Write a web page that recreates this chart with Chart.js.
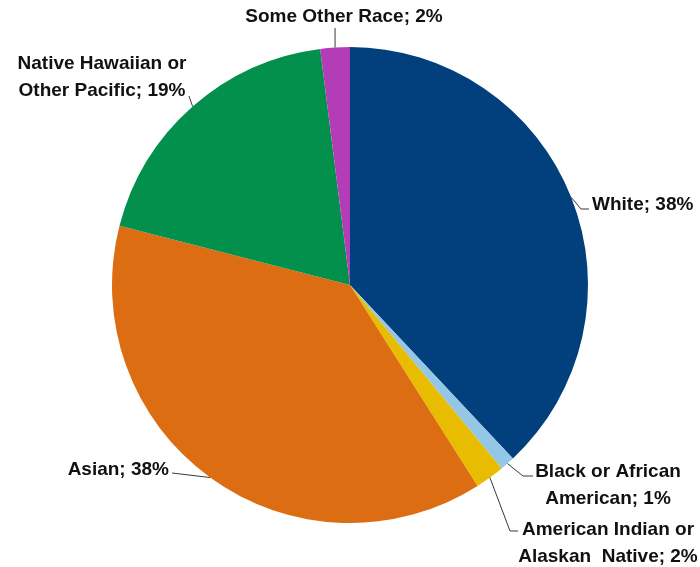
<!DOCTYPE html>
<html>
<head>
<meta charset="utf-8">
<script src="https://cdn.jsdelivr.net/npm/chart.js@4/dist/chart.umd.min.js"></script>
<style>
  html, body { margin: 0; padding: 0; background: #ffffff; }
  #wrap { width: 700px; height: 567px; }
</style>
</head>
<body>
<div id="wrap"><canvas id="pie" width="700" height="567"></canvas></div>
<script>
// Race categories (each entry split into the lines its label is printed on)
const categories = [
  ['White'],
  ['Black or African', 'American'],
  ['American Indian or', 'Alaskan  Native'],
  ['Asian'],
  ['Native Hawaiian or', 'Other Pacific'],
  ['Some Other Race']
];
// Share of population, percent
const shares = [38, 1, 2, 38, 19, 2];
const sliceColors = ['#01407d', '#94c7e6', '#e8bc00', '#dc6d12', '#03904c', '#b33db6'];

// Label placement: leader elbow/end points and text anchor for each slice
const labelLayout = [
  { elbow: [581, 209], end: [589, 209], x: 592, y: 210, align: 'left' },
  { elbow: [523, 476], end: [533, 476], x: 608, y: 477, align: 'center' },
  { elbow: [510, 531], end: [518, 531], x: 608, y: 535, align: 'center' },
  { elbow: [172, 473], end: [172, 473], x: 169, y: 475, align: 'right' },
  { elbow: [189, 96],  end: [189, 96],  x: 102, y: 69,  align: 'center' },
  { elbow: null,       end: null,       x: 344, y: 22,  align: 'center', vertical: 28 }
];
const lineGap = 27;
const labelFont = 'bold 19px "Liberation Sans", Arial, sans-serif';

const leaderLabels = {
  id: 'leaderLabels',
  afterDatasetsDraw(chart) {
    const ctx = chart.ctx;
    const arcs = chart.getDatasetMeta(0).data;
    ctx.save();
    arcs.forEach((arc, i) => {
      const p = arc.getProps(['x', 'y', 'startAngle', 'endAngle', 'outerRadius'], true);
      const mid = (p.startAngle + p.endAngle) / 2;
      const sx = p.x + Math.cos(mid) * p.outerRadius;
      const sy = p.y + Math.sin(mid) * p.outerRadius;
      const L = labelLayout[i];

      ctx.strokeStyle = '#3a3a3a';
      ctx.lineWidth = 1;
      ctx.beginPath();
      ctx.moveTo(sx, sy);
      if (L.vertical !== undefined) {
        ctx.lineTo(sx, L.vertical);
      } else {
        ctx.lineTo(L.elbow[0], L.elbow[1]);
        ctx.lineTo(L.end[0], L.end[1]);
      }
      ctx.stroke();

      const lines = categories[i].slice();
      lines[lines.length - 1] = lines[lines.length - 1] + '; ' + shares[i] + '%';
      ctx.font = labelFont;
      ctx.fillStyle = '#111111';
      ctx.textAlign = L.align;
      ctx.textBaseline = 'alphabetic';
      lines.forEach((t, k) => ctx.fillText(t, L.x, L.y + k * lineGap));
    });
    ctx.restore();
  }
};

new Chart(document.getElementById('pie'), {
  type: 'pie',
  data: {
    labels: categories.map(c => c.join(' ')),
    datasets: [{
      data: shares,
      backgroundColor: sliceColors,
      borderWidth: 0
    }]
  },
  options: {
    responsive: false,
    animation: false,
    layout: { padding: { top: 47, bottom: 44, left: 0, right: 0 } },
    plugins: {
      legend: { display: false },
      tooltip: { enabled: false }
    }
  },
  plugins: [leaderLabels]
});
</script>
</body>
</html>
